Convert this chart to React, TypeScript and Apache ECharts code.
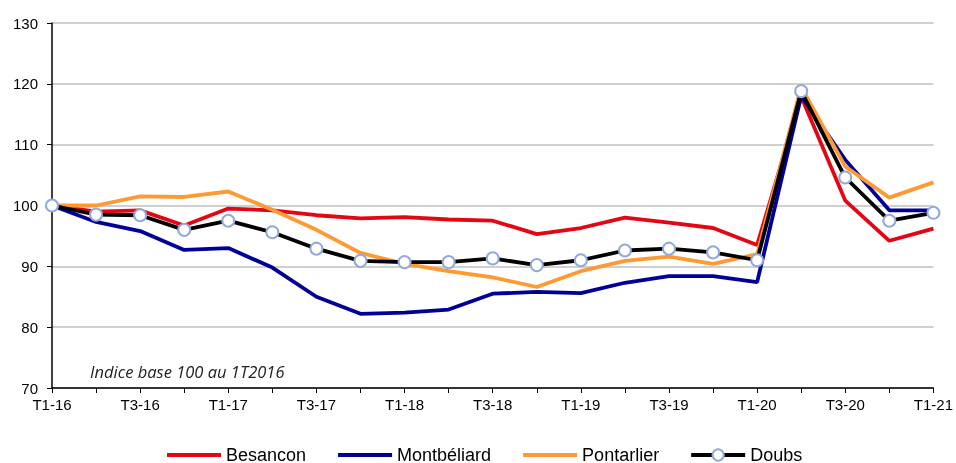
import React, { useEffect, useRef } from "react";
import * as echarts from "echarts";

const categories = [
  "T1-16", "T2-16", "T3-16", "T4-16",
  "T1-17", "T2-17", "T3-17", "T4-17",
  "T1-18", "T2-18", "T3-18", "T4-18",
  "T1-19", "T2-19", "T3-19", "T4-19",
  "T1-20", "T2-20", "T3-20", "T4-20",
  "T1-21",
];

const besancon = [100, 99.0, 99.2, 96.7, 99.5, 99.2, 98.4, 97.9, 98.1, 97.7, 97.5, 95.3, 96.3, 98.0, 97.2, 96.3, 93.5, 117.9, 100.8, 94.2, 96.2];
const montbeliard = [100, 97.3, 95.8, 92.7, 93.0, 89.8, 85.0, 82.2, 82.4, 82.9, 85.5, 85.8, 85.6, 87.3, 88.4, 88.4, 87.4, 118.0, 107.5, 99.2, 99.2];
const pontarlier = [100, 100.0, 101.5, 101.4, 102.3, 99.3, 96.0, 92.2, 90.4, 89.2, 88.2, 86.6, 89.2, 90.9, 91.6, 90.4, 92.0, 119.5, 106.4, 101.3, 103.8];
const doubs = [100, 98.5, 98.4, 96.0, 97.5, 95.6, 92.9, 90.9, 90.7, 90.7, 91.3, 90.2, 91.0, 92.6, 92.9, 92.3, 91.0, 118.8, 104.6, 97.5, 98.8];

const note = "Indice base 100 au 1T2016";

export default function App() {
  const ref = useRef<HTMLDivElement>(null);
  useEffect(() => {
    if (!ref.current) return;
    const chart = echarts.init(ref.current, undefined, { renderer: "svg" });
    const font = "'Liberation Sans', Arial, sans-serif";
    const lineSeries = (name: string, data: number[], color: string) => ({
      name,
      type: "line",
      data,
      symbol: "none",
      lineStyle: { color, width: 3.8 },
      itemStyle: { color },
    });
    chart.setOption({
      animation: false,
      grid: { left: 52, right: 21, top: 23, bottom: 75, containLabel: false },
      textStyle: { fontFamily: font },
      legend: {
        left: 160,
        top: 441,
        itemWidth: 54,
        itemHeight: 14,
        itemGap: 30,
        lineStyle: { width: 4 },
        textStyle: { fontFamily: font, fontSize: 18, color: "#000" },
        data: [
          { name: "Besancon", itemStyle: { opacity: 0 } },
          { name: "Montbéliard", itemStyle: { opacity: 0 } },
          { name: "Pontarlier", itemStyle: { opacity: 0 } },
          { name: "Doubs" },
        ],
      },
      xAxis: {
        type: "category",
        data: categories,
        boundaryGap: false,
        axisLine: { lineStyle: { color: "#000", width: 1.5 } },
        axisTick: { show: true, interval: 0, length: 5, lineStyle: { color: "#000" } },
        axisLabel: { interval: 1, color: "#000", fontSize: 15, fontFamily: font, margin: 9 },
        splitLine: { show: false },
      },
      yAxis: {
        type: "value",
        min: 70,
        max: 130,
        interval: 10,
        axisLine: { show: true, lineStyle: { color: "#000", width: 1.5 } },
        axisTick: { show: true, length: 5, lineStyle: { color: "#000" } },
        axisLabel: { color: "#000", fontSize: 15, fontFamily: font, margin: 14 },
        splitLine: { show: true, lineStyle: { color: "#c0c0c0", width: 1.5 } },
      },
      graphic: [
        {
          type: "text",
          left: 90,
          top: 363,
          style: {
            text: note,
            font: "italic 16.5px 'Open Sans', 'Liberation Sans', sans-serif",
            fill: "#222",
          },
        },
      ],
      series: [
        lineSeries("Besancon", besancon, "#e30613"),
        lineSeries("Montbéliard", montbeliard, "#000099"),
        lineSeries("Pontarlier", pontarlier, "#ff9933"),
        {
          name: "Doubs",
          type: "line",
          data: doubs,
          symbol: "circle",
          symbolSize: 12,
          lineStyle: { color: "#000", width: 3.8 },
          itemStyle: { color: "#fff", borderColor: "#93a9da", borderWidth: 2 },
          z: 5,
        },
      ],
    });
    return () => chart.dispose();
  }, []);
  return (
    <div
      ref={ref}
      style={{ position: "fixed", left: 0, top: 0, width: 956, height: 463 }}
    />
  );
}
